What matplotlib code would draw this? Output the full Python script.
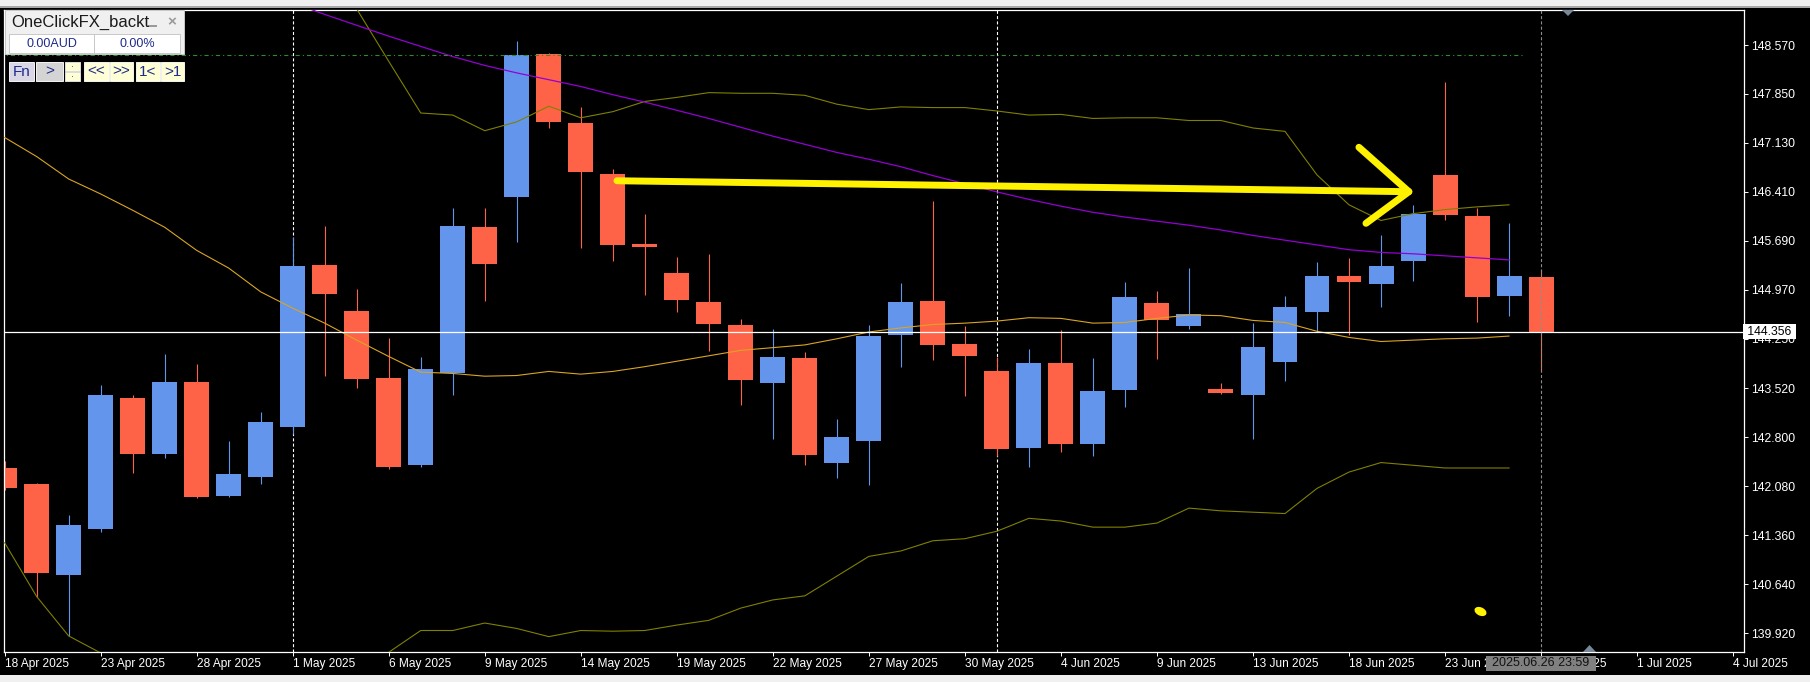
import numpy as np
import matplotlib.pyplot as plt
from matplotlib.patches import Rectangle, Polygon
from matplotlib.markers import MarkerStyle
from matplotlib.transforms import Affine2D

plt.rcParams['font.family'] = ['Liberation Sans', 'DejaVu Sans']
plt.rcParams['lines.scale_dashes'] = False

# Velas diarias (18 Apr 2025 -> 26 Jun 2025)
opens = [142.35, 142.12, 140.77, 141.46, 143.38, 142.56, 143.61, 141.94, 142.22, 142.95,
         145.34, 144.66, 143.67, 142.40, 143.74, 145.89, 146.33, 148.44, 147.42, 146.67,
         145.64, 145.22, 144.79, 144.45, 143.60, 143.97, 142.42, 142.75, 144.30, 144.81,
         144.17, 143.78, 142.65, 143.89, 142.71, 143.49, 144.78, 144.44, 143.51, 143.43,
         143.91, 144.65, 145.17, 145.05, 145.40, 146.66, 146.06, 144.88, 145.16]
highs = [142.45, 142.13, 141.66, 143.57, 143.42, 144.03, 143.88, 142.75, 143.17, 145.74,
         145.91, 144.98, 144.26, 143.98, 146.17, 146.17, 148.63, 148.46, 147.66, 146.75,
         146.09, 145.45, 145.50, 144.54, 144.39, 144.06, 143.07, 144.45, 145.07, 146.28,
         144.44, 143.98, 144.10, 144.38, 143.97, 145.08, 144.95, 145.29, 143.60, 144.48,
         144.88, 145.38, 145.44, 145.78, 146.22, 148.03, 146.17, 145.95, 145.26]
lows = [142.03, 140.46, 139.88, 141.41, 142.27, 142.49, 141.91, 141.93, 142.12, 142.85,
        143.71, 143.52, 142.34, 142.36, 143.42, 144.81, 145.68, 147.35, 145.59, 145.40,
        144.89, 144.65, 144.07, 143.27, 142.78, 142.39, 142.21, 142.10, 143.84, 143.94,
        143.41, 142.52, 142.37, 142.59, 142.52, 143.25, 143.95, 144.40, 143.44, 142.78,
        143.63, 144.35, 144.31, 144.72, 145.10, 146.00, 144.50, 144.59, 143.77]
closes = [142.06, 140.81, 141.51, 143.42, 142.56, 143.61, 141.92, 142.26, 143.02, 145.32,
          144.91, 143.66, 142.37, 143.81, 145.91, 145.35, 148.42, 147.44, 146.71, 145.63,
          145.60, 144.82, 144.47, 143.65, 143.98, 142.54, 142.81, 144.29, 144.79, 144.16,
          144.00, 142.63, 143.89, 142.71, 143.48, 144.86, 144.52, 144.61, 143.46, 144.13,
          144.72, 145.17, 145.09, 145.32, 146.09, 146.07, 144.87, 145.17, 144.356]

# Bandas de Bollinger y media movil
bb_mid = [147.21, 146.93, 146.60, 146.38, 146.14, 145.89, 145.55, 145.29, 144.94, 144.70,
          144.48, 144.23, 143.99, 143.76, 143.74, 143.70, 143.71, 143.77, 143.73, 143.77,
          143.84, 143.92, 144.00, 144.08, 144.12, 144.16, 144.25, 144.35, 144.41, 144.46,
          144.48, 144.51, 144.56, 144.55, 144.48, 144.49, 144.55, 144.60, 144.59, 144.52,
          144.49, 144.36, 144.27, 144.21, 144.23, 144.25, 144.26, 144.29]
bb_up = [153.17, 153.40, 153.31, 153.13, 152.93, 152.64, 152.10, 151.68, 150.98, 150.45,
         149.86, 149.10, 148.33, 147.57, 147.54, 147.31, 147.44, 147.67, 147.50, 147.59,
         147.74, 147.80, 147.87, 147.86, 147.86, 147.83, 147.70, 147.62, 147.66, 147.65,
         147.65, 147.60, 147.54, 147.55, 147.49, 147.50, 147.50, 147.46, 147.46, 147.35,
         147.30, 146.66, 146.22, 145.99, 146.09, 146.15, 146.19, 146.22]
bb_low = [141.25, 140.46, 139.88, 139.63, 139.35, 139.15, 139.00, 138.90, 138.90, 138.95,
          139.10, 139.36, 139.64, 139.96, 139.96, 140.07, 139.99, 139.87, 139.96, 139.95,
          139.96, 140.04, 140.11, 140.29, 140.41, 140.47, 140.76, 141.05, 141.13, 141.28,
          141.31, 141.42, 141.61, 141.57, 141.48, 141.48, 141.54, 141.76, 141.72, 141.70,
          141.68, 142.05, 142.29, 142.43, 142.39, 142.35, 142.35, 142.35]
ma_slow = [150.55, 150.40, 150.25, 150.10, 149.96, 149.81, 149.66, 149.50, 149.35, 149.19,
           149.02, 148.86, 148.70, 148.55, 148.40, 148.27, 148.16, 148.06, 147.96, 147.84,
           147.73, 147.61, 147.49, 147.36, 147.23, 147.11, 146.99, 146.89, 146.78, 146.65,
           146.53, 146.41, 146.30, 146.20, 146.11, 146.04, 145.98, 145.92, 145.85, 145.77,
           145.70, 145.63, 145.56, 145.52, 145.50, 145.47, 145.44, 145.41]

x_labels = ['18 Apr 2025', '23 Apr 2025', '28 Apr 2025', '1 May 2025', '6 May 2025',
            '9 May 2025', '14 May 2025', '19 May 2025', '22 May 2025', '27 May 2025',
            '30 May 2025', '4 Jun 2025', '9 Jun 2025', '13 Jun 2025', '18 Jun 2025',
            '23 Jun 2025', '26 Jun 2025', '1 Jul 2025', '4 Jul 2025']
y_ticks = [139.92, 140.64, 141.36, 142.08, 142.80, 143.52, 144.25, 144.97,
           145.69, 146.41, 147.13, 147.85, 148.57]
month_starts = [9, 31]
green_level = 148.425
last_price = 144.356

# Flecha amarilla dibujada a mano
arrow_x = [19.13, 43.87]
arrow_y = [146.574, 146.413]
head_x = [42.31, 43.87, 42.53]
head_y = [147.066, 146.413, 145.948]
dot_x, dot_y = 46.1, 140.246

W, H = 1810, 682
BULL = '#6495ED'
BEAR = '#FF6347'

fig = plt.figure(figsize=(W / 100, H / 100), dpi=100, facecolor='black')
ax = fig.add_axes([4 / W, 1 - 652 / H, 1740 / W, 642 / H])
ax.set_facecolor('black')

n = len(opens)
idx = np.arange(n)
o = np.array(opens)
c = np.array(closes)
colors = [BULL if cc >= oo else BEAR for oo, cc in zip(o, c)]

# separadores de mes
for m in month_starts:
    ax.axvline(m, color='white', lw=0.8, linestyle=(0, (2.2, 1.6)), zorder=1)

# velas
ax.vlines(idx, lows, highs, colors=colors, lw=0.8, zorder=2)
ax.bar(idx, np.abs(c - o), bottom=np.minimum(o, c), width=0.78, color=colors,
       linewidth=0, zorder=2)

# indicadores
li = np.arange(len(bb_mid))
ax.plot(li, bb_up, color='#808000', lw=0.8, zorder=3)
ax.plot(li, bb_low, color='#808000', lw=0.8, zorder=3)
ax.plot(li, bb_mid, color='#DAA520', lw=0.8, zorder=3)
ax.plot(li, ma_slow, color='#9400D3', lw=0.9, zorder=3)

ax.axhline(last_price, color='white', lw=0.9, zorder=3)
ax.plot([-1, n - 1.5], [green_level, green_level], color='#2E8B2E', lw=0.8,
        linestyle=(0, (3.0, 2.2, 0.8, 2.2)), zorder=3)
ax.axvline(n - 1, color='#8C8C8C', lw=0.8, linestyle=(0, (2.2, 1.6)), zorder=4)

# flecha amarilla
ax.plot(arrow_x, arrow_y, color='#FFF200', lw=5, solid_capstyle='round', zorder=6)
ax.plot(head_x, head_y, color='#FFF200', lw=5, solid_capstyle='round',
        solid_joinstyle='round', zorder=6)
blob = MarkerStyle('o', transform=Affine2D().scale(1.3, 0.85).rotate_deg(-25))
ax.plot(dot_x, dot_y, marker=blob, ms=7, color='#FFF200', mec='none', zorder=6)

ax.set_xlim(-0.02, 54.34)
ax.set_ylim(139.644, 149.085)

for s in ax.spines.values():
    s.set_color('white')
    s.set_linewidth(0.9)

ax.set_xticks(range(0, 3 * len(x_labels), 3), x_labels, ha='left')
ax.tick_params(axis='x', colors='white', length=3, width=0.7, pad=1.5,
               labelsize=8.6, direction='out')
ax.yaxis.tick_right()
ax.set_yticks(y_ticks, [f'{v:.3f}' for v in y_ticks])
ax.tick_params(axis='y', colors='white', length=3, width=0.7, pad=1.8,
               labelsize=8.8, direction='out')

ax.text(1.0, last_price, ' 144.356 ', transform=ax.get_yaxis_transform(),
        ha='left', va='center', fontsize=8.8, color='black', clip_on=False,
        zorder=10, bbox=dict(boxstyle='square,pad=0.12', fc='white', ec='none'))


# --- elementos de la interfaz (coordenadas en pixeles) ---
def fx(x):
    return x / W


def fy(y):
    return 1 - y / H


def caja(x0, y0, x1, y1, fc, ec='none', lw=0.7):
    fig.add_artist(Rectangle((fx(x0), fy(y1)), fx(x1) - fx(x0), fy(y0) - fy(y1),
                             transform=fig.transFigure, fc=fc, ec=ec, lw=lw, zorder=20))


def texto(x, y, s, **kw):
    fig.text(fx(x), fy(y), s, zorder=21, **kw)


def triangulo(pts, color):
    fig.add_artist(Polygon([(fx(a), fy(b)) for a, b in pts], closed=True,
                           transform=fig.transFigure, fc=color, ec='none', zorder=20))


caja(0, 0, W, 7, '#F0F0F0')
caja(0, 6, W, 7.5, '#A8A8A8')
caja(0, 675, W, H, '#F0F0F0')

triangulo([(1562, 10), (1574, 10), (1568, 16)], '#778899')
triangulo([(1583, 652), (1596, 652), (1589.5, 645)], '#778899')

caja(1486, 655.5, 1596, 670.5, '#808080')
texto(1541, 663, '2025.06.26 23:59', ha='center', va='center', fontsize=9, color='#111111')

# panel del EA
caja(5, 10, 184, 54, '#F0F0F0', ec='#C8C8C8')
texto(11, 22.5, 'OneClickFX_backt', ha='left', va='center', fontsize=12, color='#1A1A1A')
caja(148, 25, 157, 26.5, '#9A9A9A')
texto(172, 22, '×', ha='center', va='center', fontsize=11, color='#9A9A9A',
      fontweight='bold')
caja(9, 34, 180, 52.5, 'white', ec='#C8C8C8')
caja(93.5, 34, 94.5, 52.5, '#C8C8C8')
texto(52, 44, '0.00AUD', ha='center', va='center', fontsize=9, color='#1E2A8A')
texto(137, 44, '0.00%', ha='center', va='center', fontsize=9, color='#1E2A8A')

botones = [(9, 34, 'Fn', '#D9D7E6'), (36, 63, '>', '#D4D4D4'), (84, 109, '<<', '#FFFFD6'),
           (110, 133, '>>', '#FFFFD6'), (136, 160, '1<', '#FFFFD6'), (161, 184, '>1', '#FFFFD6')]
for x0, x1, s, fc in botones:
    caja(x0, 62, x1, 81, fc, ec='#F4F4F4')
    texto((x0 + x1) / 2, 71.5, s, ha='center', va='center', fontsize=11, color='#1E2A8A')
caja(65, 62, 80, 71, '#FFFFD6', ec='#E0E0E0')
caja(65, 72, 80, 81, '#FFFFD6', ec='#E0E0E0')
caja(72, 66, 73, 67, '#707070')
caja(72, 76, 73, 77, '#707070')

fig.savefig('out.png', dpi=100, facecolor='black')
